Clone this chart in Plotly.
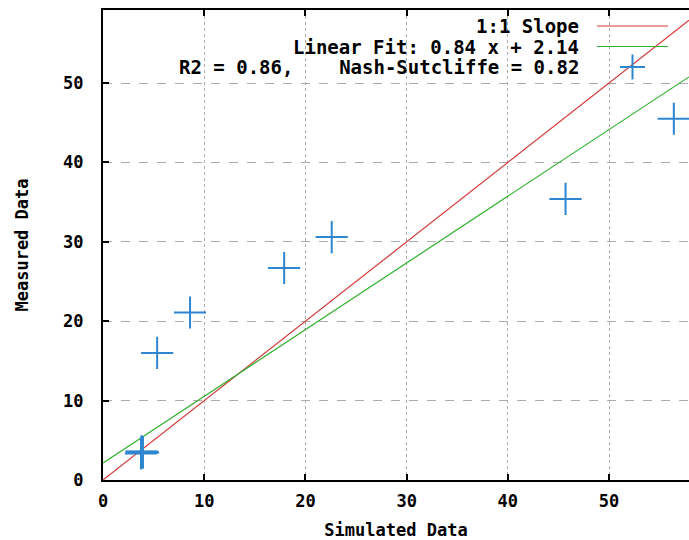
import plotly.graph_objects as go

# ---- data ----
sim = [3.75, 3.9, 3.8, 3.95, 3.85, 5.35, 8.6, 17.9, 22.6, 45.7, 56.4]
meas = [3.35, 3.5, 3.6, 3.45, 3.55, 16.0, 21.1, 26.7, 30.6, 35.4, 45.5]
fit_slope = 0.84
fit_intercept = 2.14
r2 = 0.86
nse = 0.82
x_ticks = [0, 10, 20, 30, 40, 50]
y_ticks = [0, 10, 20, 30, 40, 50]
x_range = [0, 57.9]
y_range = [0, 59.2]

FONT = "DejaVu Sans Mono"
RED = "#d23a3a"
GREEN = "#2fb02f"
BLUE = "#2f86d0"

line_x = [x_range[0], x_range[1]]
one_to_one_y = [v for v in line_x]
fit_y = [fit_slope * v + fit_intercept for v in line_x]

fig = go.Figure()
fig.add_trace(go.Scatter(x=line_x, y=one_to_one_y, mode="lines",
                         line=dict(color=RED, width=1.2), name="1:1 Slope",
                         showlegend=False))
fig.add_trace(go.Scatter(x=line_x, y=fit_y, mode="lines",
                         line=dict(color=GREEN, width=1.2),
                         name=f"Linear Fit: {fit_slope} x + {fit_intercept}",
                         showlegend=False))
fig.add_trace(go.Scatter(x=sim, y=meas, mode="markers",
                         marker=dict(symbol="cross-thin", size=23,
                                     line=dict(color=BLUE, width=2)),
                         name=f"R2 = {r2},    Nash-Sutcliffe = {nse}",
                         showlegend=False, cliponaxis=False))

W, H = 689, 540
L, T, B = 103, 10, 60
pw, ph = W - L, H - T - B


def px(xpix):
    return (xpix - L) / pw


def py(ypix):
    return (H - B - ypix) / ph


# ---- gnuplot-style key (text on the left, sample on the right) ----
key_rows = [
    ("1:1 Slope", RED, "line"),
    (f"Linear Fit: {fit_slope} x + {fit_intercept}", GREEN, "line"),
    (f"R2 = {r2},    Nash-Sutcliffe = {nse}", BLUE, "cross"),
]
annotations = []
shapes = []
row_y = [26, 46.5, 67]
for (label, color, kind), yy in zip(key_rows, row_y):
    annotations.append(dict(x=px(581), y=py(yy), xref="paper", yref="paper",
                            text=f"<b>{label}</b>", showarrow=False,
                            xanchor="right", yanchor="middle",
                            font=dict(family=FONT, size=19, color="black")))
    if kind == "line":
        shapes.append(dict(type="line", xref="paper", yref="paper",
                           x0=px(597), x1=px(668), y0=py(yy), y1=py(yy),
                           line=dict(color=color, width=1.2)))
    else:
        shapes.append(dict(type="line", xref="paper", yref="paper",
                           x0=px(620), x1=px(645), y0=py(yy), y1=py(yy),
                           line=dict(color=color, width=2)))
        shapes.append(dict(type="line", xref="paper", yref="paper",
                           x0=px(632.5), x1=px(632.5), y0=py(yy - 12.5), y1=py(yy + 12.5),
                           line=dict(color=color, width=2)))

axis_common = dict(showline=True, linecolor="black", linewidth=2,
                   ticks="inside", ticklen=6, tickwidth=2, tickcolor="black",
                   showgrid=True, gridcolor="#ababab", gridwidth=1,
                   zeroline=False,
                   tickfont=dict(family=FONT, size=17, color="black"),
                   title_font=dict(family=FONT, size=17, color="black"))

fig.update_layout(
    width=W, height=H,
    margin=dict(l=L, r=0, t=T, b=B),
    paper_bgcolor="white", plot_bgcolor="white",
    showlegend=False,
    annotations=annotations, shapes=shapes,
    xaxis=dict(range=x_range, tickvals=x_ticks,
               ticktext=[f"<b>{v}</b>" for v in x_ticks],
               mirror="ticks", griddash="dot",
               title=dict(text="<b>Simulated Data</b>", standoff=14),
               ticklabelstandoff=5,
               **axis_common),
    yaxis=dict(range=y_range, tickvals=y_ticks,
               ticktext=[f"<b>{v}</b>" for v in y_ticks],
               mirror=False, griddash="dash",
               title=dict(text="<b>Measured Data</b>", standoff=30),
               ticklabelstandoff=14,
               **axis_common),
)

# remove the default 8px page margin so the figure fills the window exactly
fig.write_html("out.html",
               config={"displayModeBar": False},
               post_script="document.body.style.margin='0px';"
                           "document.body.style.overflow='hidden';")
